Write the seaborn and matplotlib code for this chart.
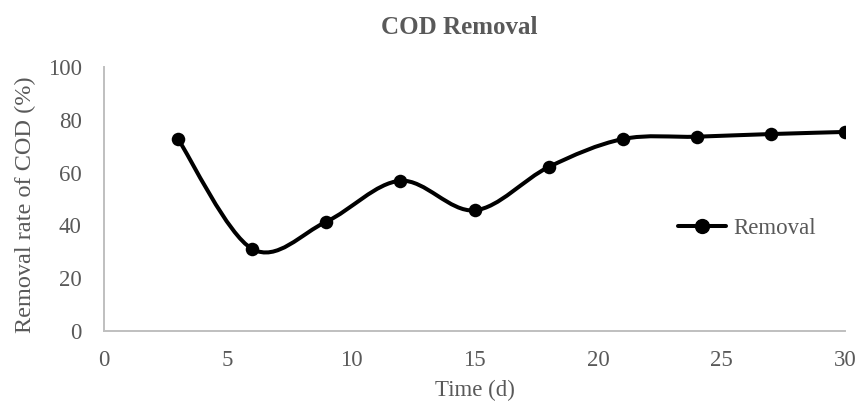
import numpy as np
import seaborn as sns
import matplotlib.pyplot as plt
from matplotlib.path import Path
from matplotlib.patches import PathPatch
from matplotlib.lines import Line2D

# values
days = [3, 6, 9, 12, 15, 18, 21, 24, 27, 30]
removal = [72.7, 31.1, 41.4, 56.9, 45.7, 62.1, 72.7, 73.6, 74.6, 75.4]

title = 'COD Removal'
x_label = 'Time (d)'
y_label = 'Removal rate of COD (%)'
series_name = 'Removal'

GREY = '#595959'
AXIS_GREY = '#BFBFBF'


def smooth_path(xs, ys):
    # Excel style smoothed line: cubic bezier pieces (catmull-rom control points)
    pts = np.column_stack([xs, ys]).astype(float)
    n = len(pts)
    verts = [pts[0]]
    codes = [Path.MOVETO]
    for i in range(n - 1):
        p0 = pts[i - 1] if i > 0 else pts[i]
        p1 = pts[i]
        p2 = pts[i + 1]
        p3 = pts[i + 2] if i + 2 < n else pts[i + 1]
        c1 = p1 + (p2 - p0) / 6.0
        c2 = p2 - (p3 - p1) / 6.0
        verts += [c1, c2, p2]
        codes += [Path.CURVE4] * 3
    return Path(verts, codes)


def create_chart():
    sns.set_theme(style='white')
    plt.rcParams['font.family'] = ['Liberation Serif', 'DejaVu Serif']

    fig = plt.figure(figsize=(8.6, 4.12), dpi=100)
    ax = fig.add_axes([0.1209, 0.1966, 0.8617, 0.6408])

    # smoothed curve, then markers on top
    ax.add_patch(PathPatch(smooth_path(days, removal), facecolor='none',
                           edgecolor='black', lw=2.9, capstyle='round',
                           zorder=2))
    sns.scatterplot(x=days, y=removal, color='black', s=95, edgecolor='black',
                    linewidth=0, zorder=3, ax=ax, legend=False)

    ax.set_xlim(0, 30)
    ax.set_ylim(0, 100)
    ax.set_xticks(range(0, 31, 5))
    ax.set_yticks(range(0, 101, 20))

    for side in ['top', 'right']:
        ax.spines[side].set_visible(False)
    for side in ['left', 'bottom']:
        ax.spines[side].set_color(AXIS_GREY)
        ax.spines[side].set_linewidth(1.4)

    ax.tick_params(axis='both', length=0, labelsize=16.5, labelcolor=GREY)
    ax.tick_params(axis='y', pad=16)
    ax.tick_params(axis='x', pad=14)

    ax.set_xlabel(x_label, fontsize=16.5, color=GREY, labelpad=6)
    ax.set_ylabel(y_label, fontsize=17.5, color=GREY)
    ax.yaxis.set_label_coords(-0.092, 0.48)
    fig.text(0.534, 0.934, title, ha='center', va='center',
             fontsize=18, fontweight='bold', color=GREY)

    handle = Line2D([], [], color='black', lw=2.9, marker='o', markersize=10)
    ax.legend(handles=[handle], labels=[series_name], loc='center left',
              bbox_to_anchor=(0.7746, 0.39), frameon=False, fontsize=16.5,
              handlelength=2.1, handletextpad=0.3, borderpad=0,
              borderaxespad=0, labelcolor=GREY)

    fig.savefig('out.png', dpi=100)


if __name__ == "__main__":
    create_chart()
